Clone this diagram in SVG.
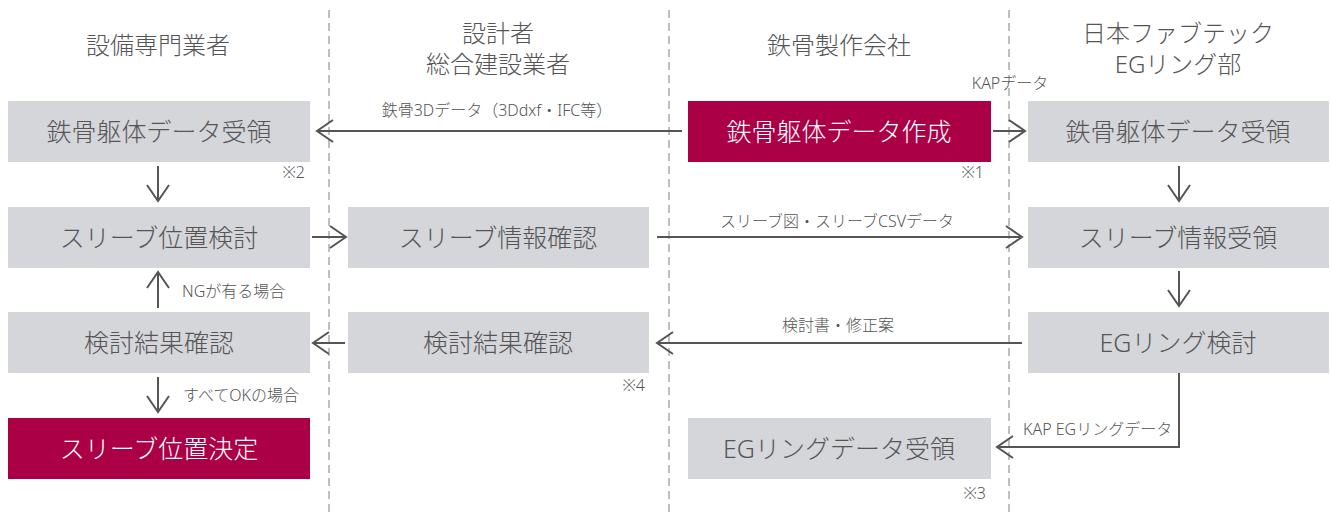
<svg xmlns="http://www.w3.org/2000/svg" width="1331" height="512" viewBox="0 0 1331 512">
<style>
text{font-family:"Noto Sans","Noto Sans CJK JP","Liberation Sans",sans-serif;fill:#555;font-weight:300;}
.hd{font-size:24px;text-anchor:middle;}
.bx{fill:#d5d6da;}
.rd{fill:#ab0046;}
.bt{font-size:25px;text-anchor:middle;}
.wt{fill:#fff;}
.lb{font-size:16px;}
.nt{font-size:16px;}
.dv{stroke:#aaa;stroke-width:1.5;stroke-dasharray:8 5;fill:none;}
.ar{stroke:#555;stroke-width:2;fill:none;}
</style>
<defs>
<marker id="ah" viewBox="-18 -13 20 26" refX="0" refY="0" markerWidth="20" markerHeight="26" markerUnits="userSpaceOnUse" orient="auto">
<path d="M-16,-11 L0,0 L-16,11" stroke="#555" stroke-width="2" fill="none"/>
</marker>
</defs>
<g id="dividers">
<line class="dv" x1="329" y1="10" x2="329" y2="512"/>
<line class="dv" x1="669" y1="10" x2="669" y2="512"/>
<line class="dv" x1="1009" y1="10" x2="1009" y2="512"/>
</g>
<g id="headers">
<text class="hd" x="158" y="54">設備専門業者</text>
<text class="hd" x="498" y="42">設計者</text>
<text class="hd" x="498" y="73">総合建設業者</text>
<text class="hd" x="839" y="54">鉄骨製作会社</text>
<text class="hd" x="1178" y="42">日本ファブテック</text>
<text class="hd" x="1178" y="73">EGリング部</text>
</g>
<g id="n1"><rect class="bx" x="8" y="101" width="302" height="61"/><text class="bt" x="159" y="141">鉄骨躯体データ受領</text></g>
<g id="n2"><rect class="bx" x="8" y="207" width="302" height="61"/><text class="bt" x="159" y="247">スリーブ位置検討</text></g>
<g id="n3"><rect class="bx" x="8" y="312" width="302" height="61"/><text class="bt" x="159" y="352">検討結果確認</text></g>
<g id="n4"><rect class="rd" x="8" y="418" width="302" height="61"/><text class="bt wt" x="159" y="458">スリーブ位置決定</text></g>
<g id="n5"><rect class="bx" x="348" y="207" width="301" height="61"/><text class="bt" x="498" y="247">スリーブ情報確認</text></g>
<g id="n6"><rect class="bx" x="348" y="312" width="301" height="61"/><text class="bt" x="498" y="352">検討結果確認</text></g>
<g id="n7"><rect class="rd" x="688" y="101" width="303" height="61"/><text class="bt wt" x="839" y="141">鉄骨躯体データ作成</text></g>
<g id="n8"><rect class="bx" x="688" y="418" width="303" height="61"/><text class="bt" x="839" y="458">EGリングデータ受領</text></g>
<g id="n9"><rect class="bx" x="1028" y="101" width="301" height="61"/><text class="bt" x="1178" y="141">鉄骨躯体データ受領</text></g>
<g id="n10"><rect class="bx" x="1028" y="207" width="301" height="61"/><text class="bt" x="1178" y="247">スリーブ情報受領</text></g>
<g id="n11"><rect class="bx" x="1028" y="312" width="301" height="61"/><text class="bt" x="1178" y="352">EGリング検討</text></g>
<g id="connectors">
<line class="ar" x1="682" y1="131" x2="317" y2="131" marker-end="url(#ah)"/>
<line class="ar" x1="993" y1="131" x2="1025" y2="131" marker-end="url(#ah)"/>
<line class="ar" x1="158" y1="166" x2="158" y2="201" marker-end="url(#ah)"/>
<line class="ar" x1="312" y1="237" x2="346" y2="237" marker-end="url(#ah)"/>
<line class="ar" x1="657" y1="237" x2="1022" y2="237" marker-end="url(#ah)"/>
<line class="ar" x1="158" y1="308" x2="158" y2="272" marker-end="url(#ah)"/>
<line class="ar" x1="1022" y1="343" x2="657" y2="343" marker-end="url(#ah)"/>
<line class="ar" x1="345" y1="343" x2="313" y2="343" marker-end="url(#ah)"/>
<line class="ar" x1="158" y1="377" x2="158" y2="412" marker-end="url(#ah)"/>
<line class="ar" x1="1179" y1="166" x2="1179" y2="201" marker-end="url(#ah)"/>
<line class="ar" x1="1179" y1="271" x2="1179" y2="306" marker-end="url(#ah)"/>
<polyline class="ar" points="1179,373 1179,447 997,447" marker-end="url(#ah)"/>
</g>
<g id="labels">
<text class="lb" x="497" y="116" text-anchor="middle">鉄骨3Dデータ（3Ddxf・IFC等）</text>
<text class="lb" x="1010" y="89" text-anchor="middle">KAPデータ</text>
<text class="lb" x="837" y="227" text-anchor="middle">スリーブ図・スリーブCSVデータ</text>
<text class="lb" x="838" y="331" text-anchor="middle">検討書・修正案</text>
<text class="lb" x="182" y="297">NGが有る場合</text>
<text class="lb" x="183" y="401">すべてOKの場合</text>
<text class="lb" x="1023" y="435">KAP EGリングデータ</text>
<text class="nt" x="305" y="178" text-anchor="end">※2</text>
<text class="nt" x="984" y="178" text-anchor="end">※1</text>
<text class="nt" x="645" y="391" text-anchor="end">※4</text>
<text class="nt" x="986" y="499" text-anchor="end">※3</text>
</g>
</svg>
